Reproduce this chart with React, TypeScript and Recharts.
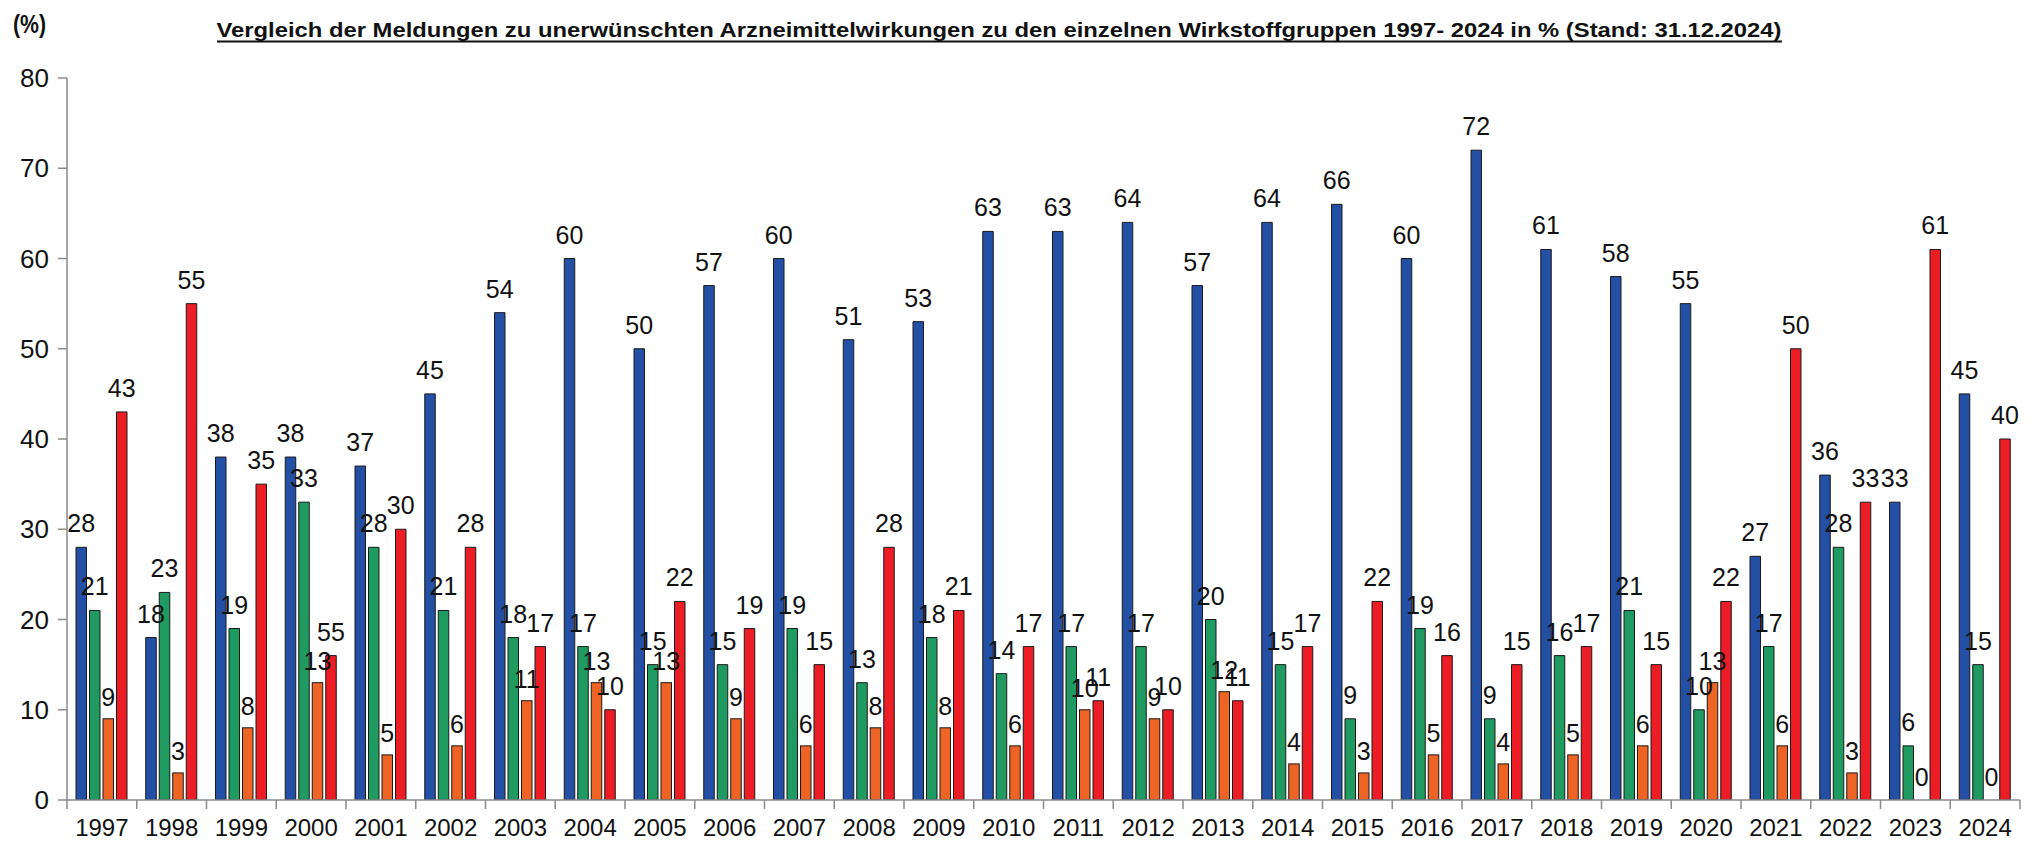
import React from 'react';
import { BarChart, Bar, XAxis, YAxis, LabelList } from 'recharts';

const years = ['1997','1998','1999','2000','2001','2002','2003','2004','2005','2006','2007','2008','2009','2010','2011','2012','2013','2014','2015','2016','2017','2018','2019','2020','2021','2022','2023','2024'];
const blueValues = [28,18,38,38,37,45,54,60,50,57,60,51,53,63,63,64,57,64,66,60,72,61,58,55,27,36,33,45];
const greenValues = [21,23,19,33,28,21,18,17,15,15,19,13,18,14,17,17,20,15,9,19,9,16,21,10,17,28,6,15];
const orangeValues = [9,3,8,13,5,6,11,13,13,9,6,8,8,6,10,9,12,4,3,5,4,5,6,13,6,3,0,0];
const redValues = [43,55,35,16,30,28,17,10,22,19,15,28,21,17,11,10,11,17,22,16,15,17,15,22,50,33,61,40];
// printed labels (the reference prints "55" over the 2000 red bar)
const redLabels = ['43','55','35','55','30','28','17','10','22','19','15','28','21','17','11','10','11','17','22','16','15','17','15','22','50','33','61','40'];
const yTicks = [0,10,20,30,40,50,60,70,80];
const titleText = 'Vergleich der Meldungen zu unerwünschten Arzneimittelwirkungen zu den einzelnen Wirkstoffgruppen 1997- 2024 in % (Stand: 31.12.2024)';
const unitText = '(%)';

const rows = years.map((y, i) => ({
  year: y,
  blue: blueValues[i],
  green: greenValues[i],
  orange: orangeValues[i],
  red: redValues[i],
  blueLabel: String(blueValues[i]),
  greenLabel: String(greenValues[i]),
  orangeLabel: String(orangeValues[i]),
  redLabel: redLabels[i],
}));

const FONT = '"Liberation Sans", Arial, sans-serif';
const AXIS = '#8a8a8a';

const XTick = (props: any) => {
  const { x, y, payload, index, visibleTicksCount } = props;
  const half = payload && payload.offset ? payload.offset : 0;
  const isLast = index === (visibleTicksCount ?? years.length) - 1;
  return (
    <g>
      <line x1={x - half} x2={x - half} y1={y} y2={y + 9} stroke={AXIS} strokeWidth={1.5} />
      {isLast && <line x1={x + half} x2={x + half} y1={y} y2={y + 9} stroke={AXIS} strokeWidth={1.5} />}
      <text x={x} y={y + 36} textAnchor="middle" fontFamily={FONT} fontSize={24} fill="#111">{payload.value}</text>
    </g>
  );
};

// draws nothing for zero values (the bar only exists so that its "0" label is placed)
const OrangeShape = (props: any) => {
  const { x, y, width, height, fill, stroke, payload } = props;
  if (!payload || payload.orange === 0 || !height) return <g />;
  return <rect x={x} y={y} width={width} height={height} fill={fill} stroke={stroke} strokeWidth={1} />;
};

const labelStyle = { fontFamily: FONT, fontSize: 25, fill: '#111' } as any;

export default function App() {
  return (
    <div style={{ position: 'absolute', left: 0, top: 0, width: 2034, height: 851, background: '#fff' }}>
      <BarChart
        width={2034}
        height={851}
        data={rows}
        margin={{ top: 78, right: 14, bottom: 11, left: 7 }}
        barSize={10.5}
        barGap={3}
      >
        <XAxis
          dataKey="year"
          height={40}
          stroke={AXIS}
          strokeWidth={1.5}
          tickLine={false}
          tickSize={0}
          tickMargin={0}
          interval={0}
          tick={<XTick />}
        />
        <YAxis
          width={60}
          domain={[0, 80]}
          ticks={yTicks}
          interval={0}
          stroke={AXIS}
          strokeWidth={1.5}
          tickSize={9}
          tickMargin={9}
          tick={{ fontFamily: FONT, fontSize: 26, fill: '#111' }}
          allowDataOverflow
        />
        <Bar dataKey="blue" fill="#2350a5" stroke="#1a1a1a" strokeWidth={1} isAnimationActive={false}>
          <LabelList dataKey="blueLabel" position="top" offset={15} style={labelStyle} />
        </Bar>
        <Bar dataKey="green" fill="#1f9a60" stroke="#1a1a1a" strokeWidth={1} isAnimationActive={false}>
          <LabelList dataKey="greenLabel" position="top" offset={15} style={labelStyle} />
        </Bar>
        <Bar dataKey="orange" fill="#ee6424" stroke="#1a1a1a" strokeWidth={1} minPointSize={1} shape={<OrangeShape />} isAnimationActive={false}>
          <LabelList dataKey="orangeLabel" position="top" offset={13} style={labelStyle} />
        </Bar>
        <Bar dataKey="red" fill="#ec1d25" stroke="#1a1a1a" strokeWidth={1} isAnimationActive={false}>
          <LabelList dataKey="redLabel" position="top" offset={15} style={labelStyle} />
        </Bar>
      </BarChart>
      <svg width={2034} height={70} style={{ position: 'absolute', left: 0, top: 0, pointerEvents: 'none' }}>
        <text x={13} y={33} fontFamily={FONT} fontSize={25} fontWeight="bold" fill="#111" textLength={33} lengthAdjust="spacingAndGlyphs">{unitText}</text>
        <text
          x={999}
          y={37}
          textAnchor="middle"
          fontFamily={'"Liberation Sans Narrow", ' + FONT}
          fontSize={21}
          fontWeight="bold"
          fill="#111"
          textLength={1565}
          lengthAdjust="spacingAndGlyphs"
        >{titleText}</text>
        <line x1={217} x2={1782} y1={41.5} y2={41.5} stroke="#111" strokeWidth={2} />
      </svg>
    </div>
  );
}
